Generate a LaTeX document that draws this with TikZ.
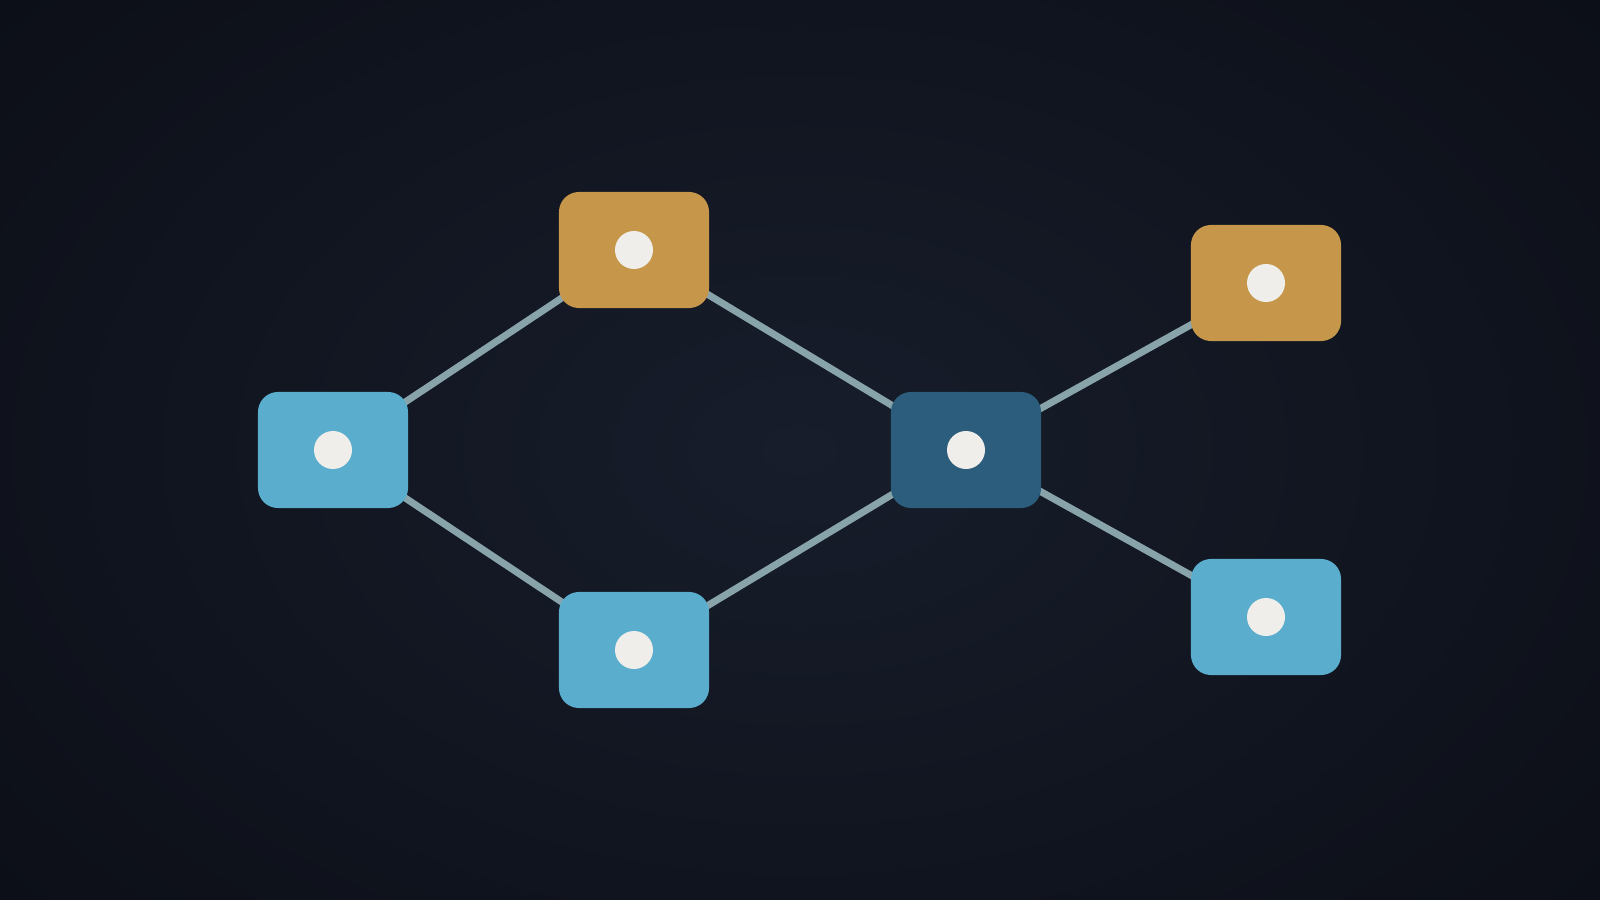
\documentclass[tikz,border=0pt]{standalone}
\usetikzlibrary{backgrounds}
\definecolor{bgc}{HTML}{171D2B}
\definecolor{bge}{HTML}{0C0F17}
\definecolor{lblue}{HTML}{5AADCC}
\definecolor{gold}{HTML}{C6974A}
\definecolor{dblue}{HTML}{2C5D7C}
\definecolor{edgec}{HTML}{88A4AA}
\definecolor{dotc}{HTML}{F0EEEA}
\tikzset{
  box/.style={rounded corners=0.2cm, minimum width=1.5cm, minimum height=1.16cm, inner sep=0pt},
  lightbox/.style={box, fill=lblue},
  goldbox/.style={box, fill=gold},
  darkbox/.style={box, fill=dblue},
  dot/.style={circle, fill=dotc, minimum size=0.38cm, inner sep=0pt},
  link/.style={draw=edgec, line width=0.07cm}
}
\begin{document}
\begin{tikzpicture}[x=0.01cm,y=-0.01cm]
\useasboundingbox (0,0) rectangle (1600,900);
\node[lightbox] (L) at (333,450) {};
\node[goldbox] (T) at (634,250) {};
\node[lightbox] (B) at (634,650) {};
\node[darkbox] (M) at (966,450) {};
\node[goldbox] (TR) at (1266,283) {};
\node[lightbox] (BR) at (1266,617) {};
\foreach \n in {L,T,B,M,TR,BR} \node[dot] (d\n) at (\n) {};
\begin{scope}[on background layer]
  \fill[bge] (0,0) rectangle (1600,900);
  \begin{scope}
    \clip (0,0) rectangle (1600,900);
    \shade[inner color=bgc, outer color=bge, xscale=1.5] (533,450) circle (700);
  \end{scope}
  \draw[link] (L.center) -- (T.center);
  \draw[link] (L.center) -- (B.center);
  \draw[link] (T.center) -- (M.center);
  \draw[link] (B.center) -- (M.center);
  \draw[link] (M.center) -- (TR.center);
  \draw[link] (M.center) -- (BR.center);
\end{scope}
\end{tikzpicture}
\end{document}
